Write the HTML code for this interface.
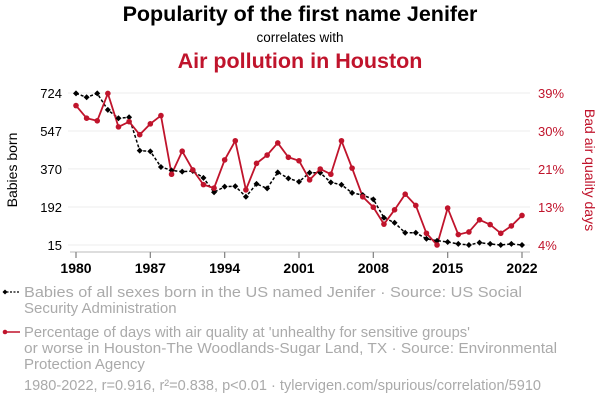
<!DOCTYPE html>
<html><head><meta charset="utf-8"><style>
body{margin:0;background:#fff;width:600px;height:408px;overflow:hidden;font-family:"Liberation Sans",sans-serif}
svg text{font-family:"Liberation Sans",sans-serif}
</style></head><body>
<svg id="chart" width="600" height="408">
<text x="300" y="21" text-anchor="middle" font-size="21.5" font-weight="bold" fill="#000">Popularity of the first name Jenifer</text>
<text x="300" y="42" text-anchor="middle" font-size="13.5" fill="#000">correlates with</text>
<text x="300" y="68" text-anchor="middle" font-size="21.5" font-weight="bold" fill="#c0142c">Air pollution in Houston</text>
<text transform="translate(17,170) rotate(-90)" text-anchor="middle" font-size="14" fill="#000">Babies born</text>
<text transform="translate(585,170) rotate(90)" text-anchor="middle" font-size="14" fill="#c0142c">Bad air quality days</text>
<g id="grid"></g><g id="axes"></g><g id="series"></g>
<g font-size="15" fill="#aaa">
<line x1="3" y1="292" x2="20" y2="292" stroke="#000" stroke-width="1.2" stroke-dasharray="2,1.5"/>
<path d="M5,289.5 L7.5,292 L5,294.5 L2.5,292Z" fill="#000"/>
<text x="24" y="297" textLength="498" lengthAdjust="spacingAndGlyphs">Babies of all sexes born in the US named Jenifer · Source: US Social</text>
<text x="24" y="313">Security Administration</text>
<line x1="3" y1="332" x2="20" y2="332" stroke="#c0142c" stroke-width="1.5"/>
<circle cx="5" cy="332" r="2.3" fill="#c0142c"/>
<text x="24" y="337" textLength="446" lengthAdjust="spacingAndGlyphs">Percentage of days with air quality at 'unhealthy for sensitive groups'</text>
<text x="24" y="353" textLength="533" lengthAdjust="spacingAndGlyphs">or worse in Houston-The Woodlands-Sugar Land, TX · Source: Environmental</text>
<text x="24" y="369">Protection Agency</text>
<text x="24" y="390" textLength="517" lengthAdjust="spacingAndGlyphs">1980-2022, r=0.916, r²=0.838, p&lt;0.01 · tylervigen.com/spurious/correlation/5910</text>
</g>
</svg>
<script>
const years=[];for(let y=1980;y<=2022;y++)years.push(y);
const babies=[722,704,722,645,606,611,455,452,379,363,357,360,328,261,287,289,240,300,279,354,326,310,352,352,307,296,258,248,228,142,119,72,72,44,35,29,20,15,26,20,15,20,15];
const air=[36.1,33.2,32.6,38.9,31.2,32.4,29.4,31.9,33.8,20.3,25.6,21.3,17.9,17.1,23.6,28.0,16.7,22.8,24.7,27.5,24.2,23.4,19.0,21.5,20.3,28.0,21.7,15.1,12.7,8.8,12.1,15.7,13.1,6.7,4.0,12.5,6.4,7.0,9.8,8.7,6.7,8.4,10.8];
const leftTicks=[15,192,370,547,724];
const rightTickVals=[4,12.75,21.5,30.25,39];
const rightTickLabels=["4%","13%","21%","30%","39%"];
const xTicks=[1980,1987,1994,2001,2008,2015,2022];
const NS="http://www.w3.org/2000/svg";
const X=y=>76+(y-1980)*(446/42);
const YL=v=>245-(v-15)/709*152;
const YR=v=>245-(v-4)/35*152;
function mk(tag,attrs,parent,text){const e=document.createElementNS(NS,tag);for(const k in attrs)e.setAttribute(k,attrs[k]);if(text!==undefined)e.textContent=text;document.getElementById(parent).appendChild(e);return e;}
leftTicks.forEach(v=>{
 const g=mk('line',{x1:68,x2:530,y1:YL(v),y2:YL(v),stroke:'#eee','stroke-width':1},'grid');
 
 
 const t=mk('text',{x:62,y:YL(v)+5,'text-anchor':'end','font-size':13,fill:'#000'},'axes',String(v));
 
 
});
rightTickVals.forEach((v,i)=>{
 const t=mk('text',{x:538,y:YR(v)+5,'font-size':13,fill:'#c0142c'},'axes',rightTickLabels[i]);
 
 
});
const ax=mk('line',{x1:70,x2:530,y1:252,y2:252,stroke:'#bbb','stroke-width':1},'axes');


xTicks.forEach(y=>{
 mk('line',{x1:X(y),x2:X(y),y1:252,y2:258,stroke:'#888','stroke-width':1.3},'axes');
 const t=mk('text',{x:X(y),y:273,'text-anchor':'middle','font-size':14,'font-weight':'bold',fill:'#000'},'axes',String(y));
 
 
});
const pb=mk('polyline',{points:years.map((y,i)=>X(y)+','+YL(babies[i])).join(' '),fill:'none',stroke:'#000','stroke-width':1.5,'stroke-dasharray':'3,2'},'series');


const pr=mk('polyline',{points:years.map((y,i)=>X(y)+','+YR(air[i])).join(' '),fill:'none',stroke:'#c0142c','stroke-width':1.8},'series');


years.forEach((y,i)=>{
 const cx=X(y),cy=YL(babies[i]);
 const d=mk('path',{d:`M${cx},${cy-3}L${cx+3},${cy}L${cx},${cy+3}L${cx-3},${cy}Z`,fill:'#000'},'series');
 
 
 const c=mk('circle',{cx:cx,cy:YR(air[i]),r:2.8,fill:'#c0142c'},'series');
 
 
});
</script>
</body></html>
